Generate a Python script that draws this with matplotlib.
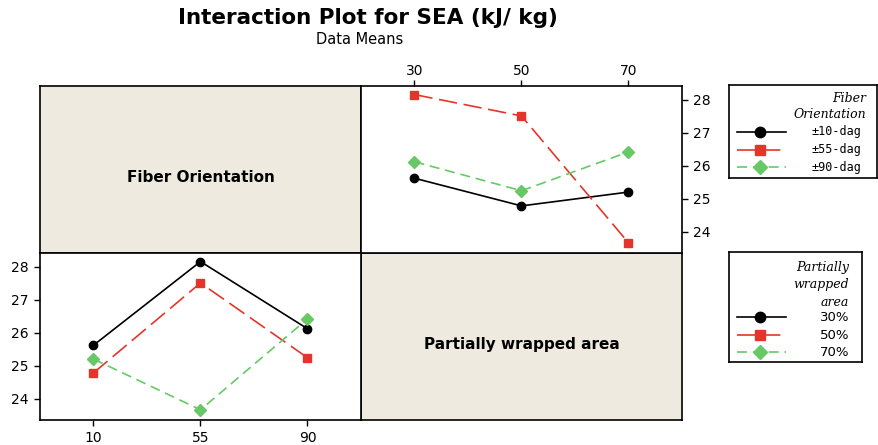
import matplotlib.pyplot as plt
from matplotlib.lines import Line2D

# Cell means of SEA (kJ/kg): rows = fiber orientation, columns = partially wrapped area
fiber_levels = ["10", "55", "90"]
area_levels = ["30", "50", "70"]
fiber_names = ["\u00b110-dag", "\u00b155-dag", "\u00b190-dag"]
area_names = ["30%", "50%", "70%"]
sea_10 = [25.62, 24.78, 25.20]
sea_55 = [28.16, 27.51, 23.66]
sea_90 = [26.12, 25.24, 26.42]

styles = [
    dict(color="black", marker="o", ms=6, lw=1.2, ls="-"),
    dict(color="#e5352b", marker="s", ms=6, lw=1.2, ls=(0, (11, 4))),
    dict(color="#66c966", marker="D", ms=6, lw=1.2, ls=(0, (6, 3.5))),
]

W, H = 879, 445
fig = plt.figure(figsize=(W / 100, H / 100), dpi=100)
plt.rcParams["font.family"] = "DejaVu Sans"


def px_axes(x0, y0, x1, y1):
    return fig.add_axes([x0 / W, (H - y1) / H, (x1 - x0) / W, (y1 - y0) / H])


beige = "#eeeae0"
ylim = (23.35, 28.42)
pos = [0, 1, 2]

# label panels
for rect, txt in [((40, 86, 361, 253), "Fiber Orientation"),
                  ((361, 253, 682, 420), "Partially wrapped area")]:
    ax = px_axes(*rect)
    ax.set_facecolor(beige)
    ax.set_xticks([])
    ax.set_yticks([])
    ax.text(0.5, 0.45, txt, transform=ax.transAxes, ha="center", va="center",
            fontsize=11, fontweight="bold")
    for s in ax.spines.values():
        s.set_linewidth(1.2)

means = [sea_10, sea_55, sea_90]

# top right: x = wrapped area, one line per fiber orientation
ax1 = px_axes(361, 86, 682, 253)
for i, st in enumerate(styles):
    ax1.plot(pos, means[i], **st)
ax1.set_xlim(-0.5, 2.5)
ax1.set_ylim(*ylim)
ax1.set_xticks(pos, area_levels)
ax1.set_yticks([24, 25, 26, 27, 28])
ax1.xaxis.tick_top()
ax1.yaxis.tick_right()

# bottom left: x = fiber orientation, one line per wrapped area
ax2 = px_axes(40, 253, 361, 420)
for j, st in enumerate(styles):
    ax2.plot(pos, [m[j] for m in means], **st)
ax2.set_xlim(-0.5, 2.5)
ax2.set_ylim(*ylim)
ax2.set_xticks(pos, fiber_levels)
ax2.set_yticks([24, 25, 26, 27, 28])

for ax in (ax1, ax2):
    ax.tick_params(labelsize=10, length=4.5, width=1)
    for s in ax.spines.values():
        s.set_linewidth(1.2)
ax1.tick_params(axis="x", pad=1)


def legend_box(x0, y0, x1, y1, title_lines, title_y, names, row_y, label_x,
               label_ha, title_x, mono):
    lax = px_axes(x0, y0, x1, y1)
    lax.set_xlim(x0, x1)
    lax.set_ylim(y1, y0)
    lax.set_xticks([])
    lax.set_yticks([])
    for s in lax.spines.values():
        s.set_linewidth(1.2)
    for t, ty in zip(title_lines, title_y):
        lax.text(title_x, ty, t, ha="right", va="center", fontsize=9,
                 fontstyle="italic", family="DejaVu Serif")
    for st, name, ry in zip(styles, names, row_y):
        lax.add_line(Line2D([737, 786], [ry, ry], color=st["color"], lw=1.2,
                            ls=st["ls"]))
        lax.plot([760], [ry], marker=st["marker"], color=st["color"],
                 ms=st["ms"] + 1.5)
        lax.text(label_x, ry, name, ha=label_ha, va="center",
                 fontsize=8.5 if mono else 9.5,
                 family="DejaVu Sans Mono" if mono else "DejaVu Sans")


legend_box(729, 85, 877, 178, ["Fiber", "Orientation"], [98, 115],
           fiber_names, [132, 150, 167], 812, "left", 866, True)
legend_box(729, 252, 862, 362, ["Partially", "wrapped", "area"],
           [267, 284, 302], area_names, [317, 335, 352], 849, "right", 849,
           False)

fig.text(368 / W, 1 - 18 / H, "Interaction Plot for SEA (kJ/ kg)",
         ha="center", va="center", fontsize=15.5, fontweight="bold")
fig.text(360 / W, 1 - 40 / H, "Data Means", ha="center", va="center",
         fontsize=10.5)

fig.savefig("out.png", dpi=100)
